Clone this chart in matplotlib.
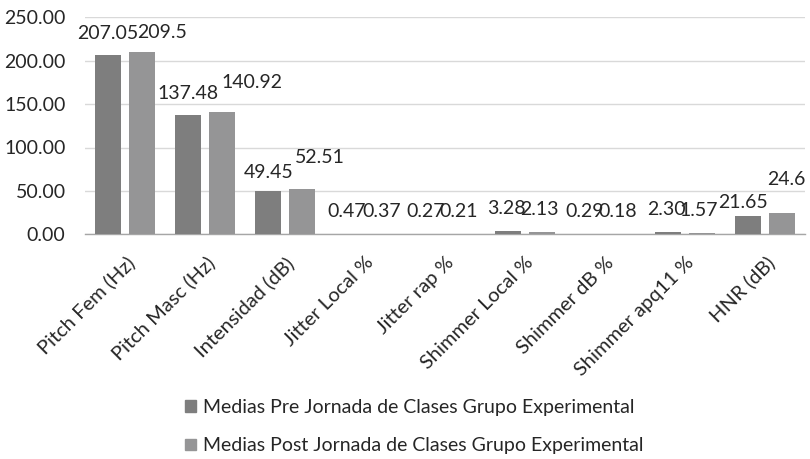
import matplotlib
matplotlib.use("Agg")
import matplotlib.pyplot as plt
from matplotlib.patches import Patch
import numpy as np

categories = ["Pitch Fem (Hz)", "Pitch Masc (Hz)", "Intensidad (dB)", "Jitter Local %",
              "Jitter rap %", "Shimmer Local %", "Shimmer dB %", "Shimmer apq11 %", "HNR (dB)"]
pre_values = [207.05, 137.48, 49.45, 0.47, 0.27, 3.28, 0.29, 2.30, 21.65]
post_values = [209.5, 140.92, 52.51, 0.37, 0.21, 2.13, 0.18, 1.57, 24.6]
pre_labels = ["207.05", "137.48", "49.45", "0.47", "0.27", "3.28", "0.29", "2.30", "21.65"]
post_labels = ["209.5", "140.92", "52.51", "0.37", "0.21", "2.13", "0.18", "1.57", "24.6"]
series_names = ["Medias Pre Jornada de Clases Grupo Experimental",
                "Medias Post Jornada de Clases Grupo Experimental"]
y_ticks = [0, 50, 100, 150, 200, 250]

# label offsets in pixels (dx, dy above bar top to baseline)
pre_off = [(0, 15.5), (0, 16), (0, 13.5), (-2, 17), (-3, 17), (-2, 17), (-4, 17), (-2, 17), (-5, 7.5)]
post_off = [(20, 14.7), (30, 24), (18, 26), (0, 17), (-3, 17), (-2, 17), (-4, 17), (-3, 17), (5, 28)]

plt.rcParams['font.family'] = ['Lato', 'DejaVu Sans']
TXT = '#262626'
C_PRE = '#7e7e7e'
C_POST = '#959596'

fig = plt.figure(figsize=(8.1, 4.59), dpi=100)
ax = fig.add_axes([85/810, 1-234.3/459, 720/810, (234.3-17.3)/459])

x = np.arange(len(categories))
w = 0.325
off = 0.21
b1 = ax.bar(x - off, pre_values, w, color=C_PRE, zorder=3)
b2 = ax.bar(x + off, post_values, w, color=C_POST, zorder=3)

fs = 14
px2pt = 0.72
for xi, v, lab, (dx, dy) in zip(x - off, pre_values, pre_labels, pre_off):
    ax.annotate(lab, (xi, v), xytext=(dx*px2pt, dy*px2pt), textcoords='offset points',
                ha='center', va='baseline', fontsize=fs, color=TXT)
for xi, v, lab, (dx, dy) in zip(x + off, post_values, post_labels, post_off):
    ax.annotate(lab, (xi, v), xytext=(dx*px2pt, dy*px2pt), textcoords='offset points',
                ha='center', va='baseline', fontsize=fs, color=TXT)

ax.set_xlim(-0.5, len(categories) - 0.5)
ax.set_ylim(0, 250)
ax.set_yticks(y_ticks)
ax.set_yticklabels([f"{t:.2f}" for t in y_ticks], fontsize=fs, color=TXT)
ax.tick_params(axis='y', length=0, pad=14)
ax.set_xticks(x)
ax.set_xticklabels(categories, rotation=45, ha='right', va='top', rotation_mode='anchor',
                   fontsize=14.5, color=TXT)
ax.tick_params(axis='x', length=0, pad=14)
ax.yaxis.grid(True, color='#d9d9d9', linewidth=1, zorder=0)
for s in ['top', 'right', 'left']:
    ax.spines[s].set_visible(False)
ax.spines['bottom'].set_color('#a6a6a6')
ax.spines['bottom'].set_linewidth(1)

handles = [Patch(color=C_PRE), Patch(color=C_POST)]
fig.legend(handles, series_names, loc='upper left', bbox_to_anchor=(185/810, 1-399/459),
           frameon=False, fontsize=14, labelcolor=TXT, handlelength=0.55, handleheight=0.55,
           handletextpad=0.4, labelspacing=1.1, borderpad=0, borderaxespad=0)

fig.savefig("out.png", dpi=100)
